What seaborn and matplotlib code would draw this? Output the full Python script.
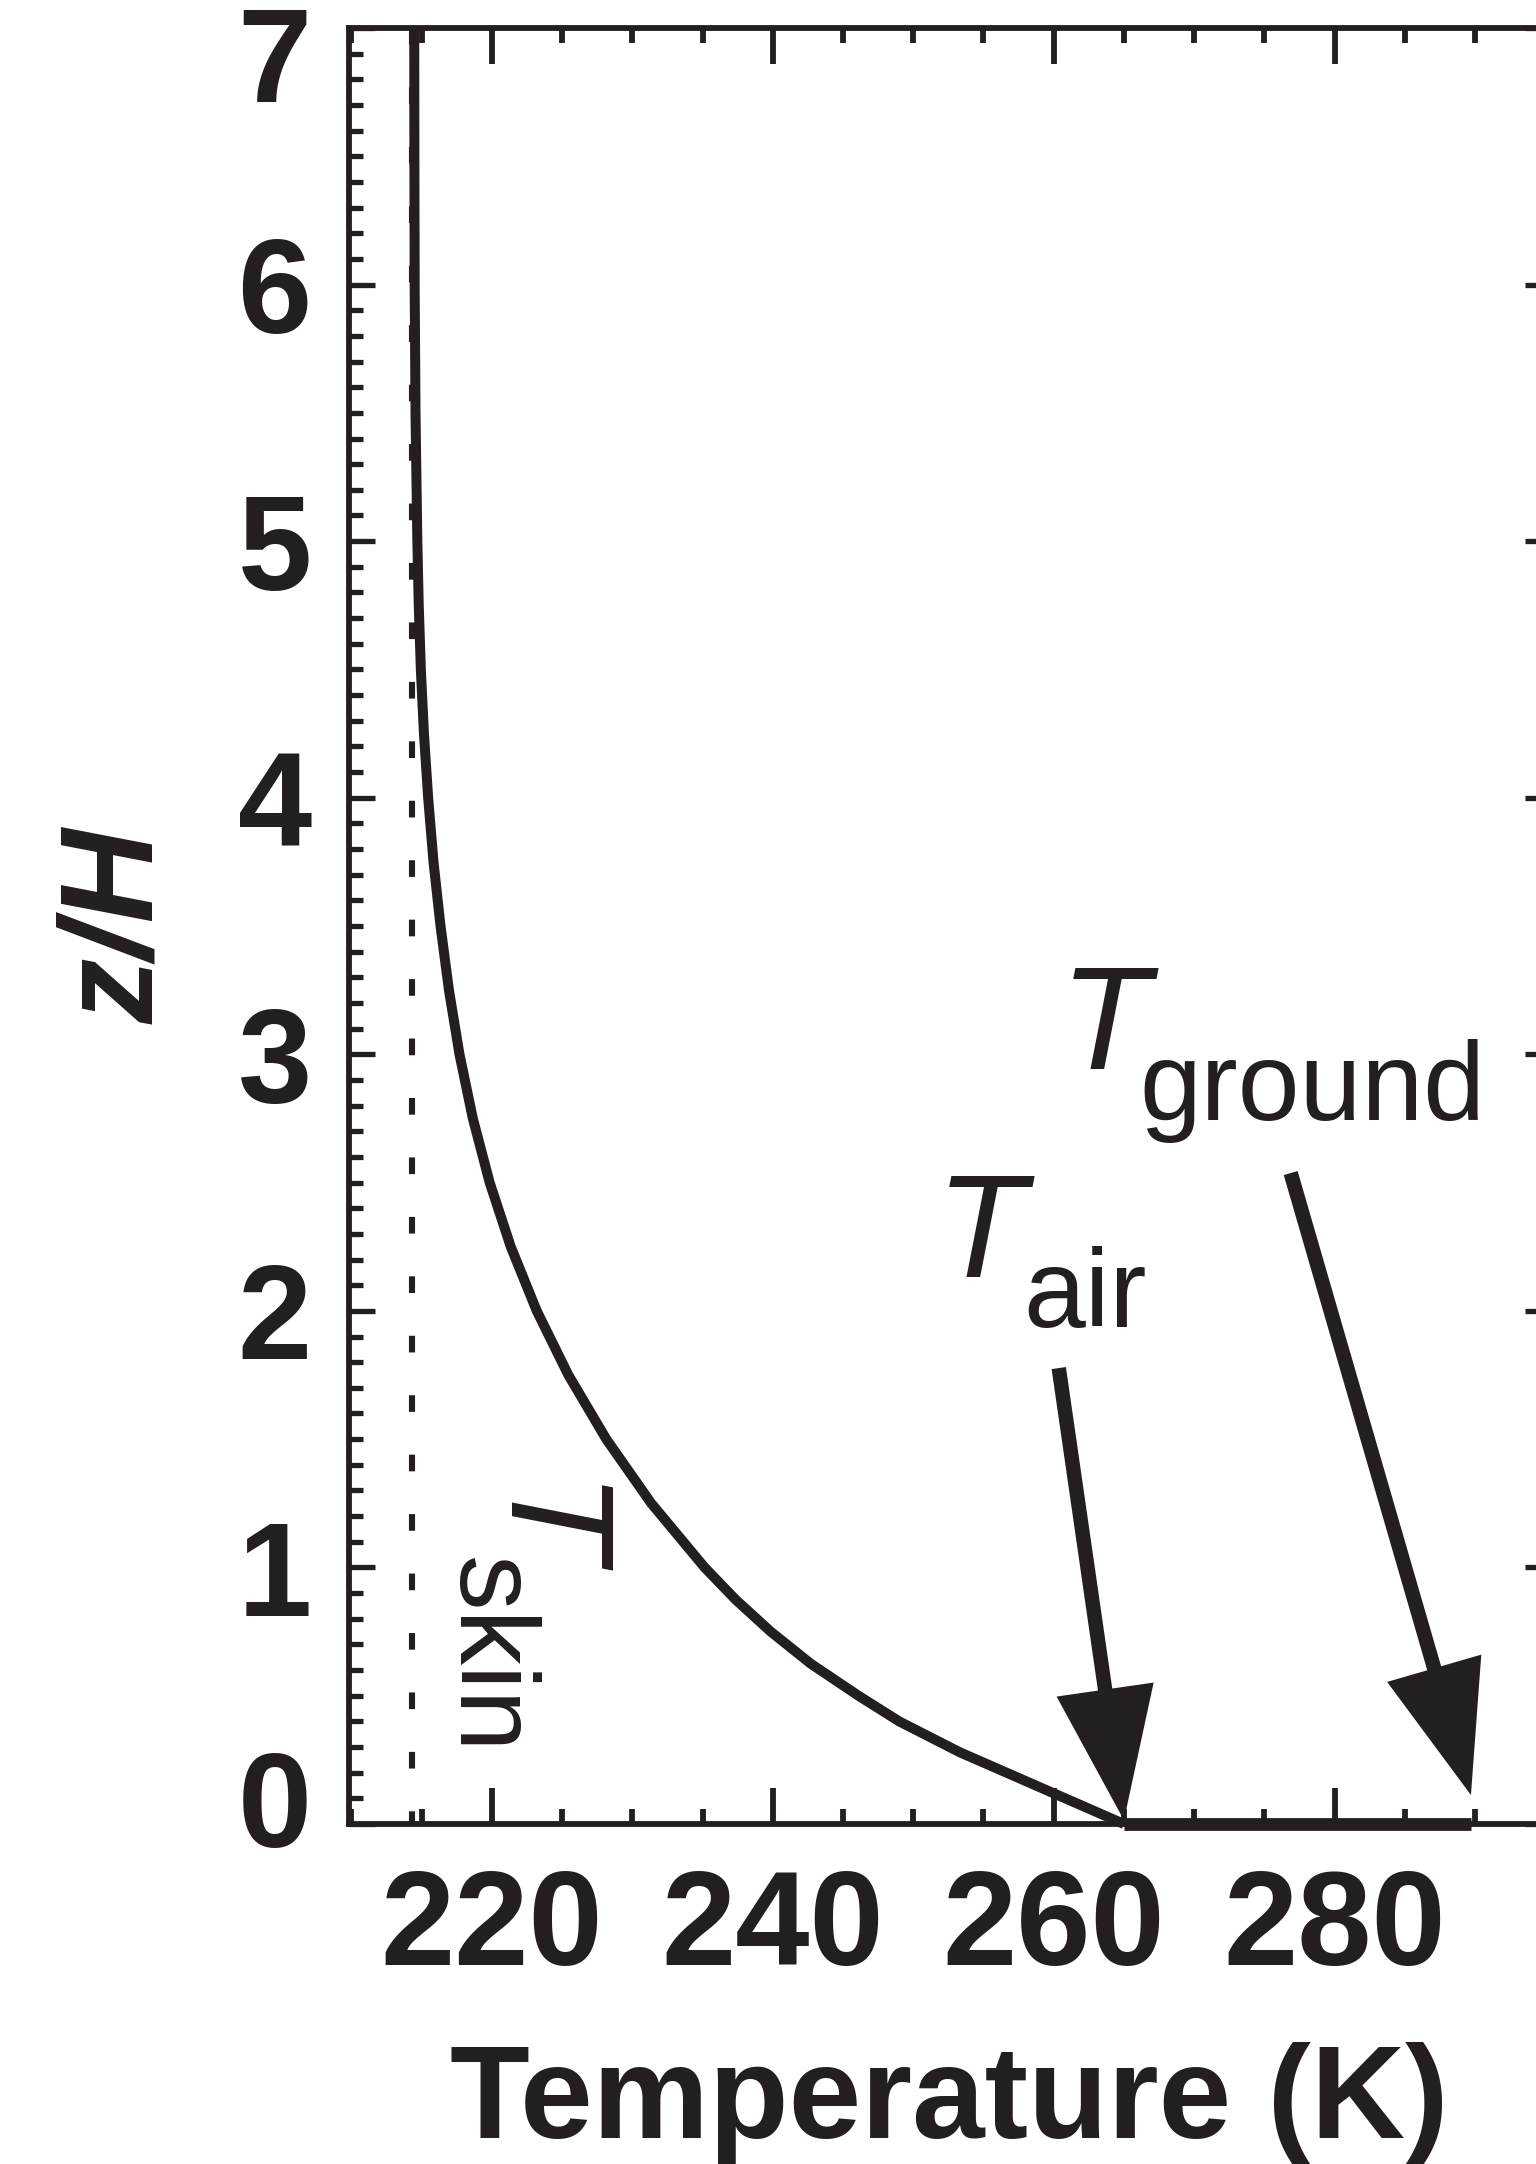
import matplotlib
matplotlib.use("Agg")
import matplotlib.pyplot as plt
import matplotlib.transforms as mtrans
from matplotlib.patches import ArrowStyle
from matplotlib.ticker import MultipleLocator
import pandas as pd
import seaborn as sns

# Radiative-equilibrium temperature profile (height in scale heights, T in K)
height = [7.00, 6.50, 6.00, 5.50, 5.00, 4.75, 4.50, 4.25, 4.00, 3.75,
          3.50, 3.25, 3.00, 2.75, 2.50, 2.25, 2.00, 1.75, 1.50, 1.25,
          1.00, 0.875, 0.75, 0.625, 0.50, 0.40, 0.28, 0.00]
temperature = [214.48, 214.49, 214.51, 214.57, 214.70, 214.80, 214.95, 215.17, 215.47, 215.85,
               216.35, 216.95, 217.70, 218.65, 219.85, 221.35, 223.20, 225.45, 228.15, 231.35,
               235.15, 237.35, 239.85, 242.70, 246.10, 249.00, 253.30, 265.00]

t_skin = 214.33    # skin temperature (dashed reference line)
t_air = 265.0      # air temperature at the ground
t_ground = 289.7   # ground temperature

x_ticks = [220, 240, 260, 280]
y_ticks = [0, 1, 2, 3, 4, 5, 6, 7]

ink = "#231f20"

sns.set_style("white")
plt.rcParams["font.family"] = ["Liberation Sans", "DejaVu Sans"]
plt.rcParams["font.weight"] = "bold"
plt.rcParams["lines.scale_dashes"] = False
plt.rcParams["text.color"] = ink
plt.rcParams["axes.labelcolor"] = ink
plt.rcParams["xtick.color"] = ink
plt.rcParams["ytick.color"] = ink

fig = plt.figure(figsize=(7.68, 10.82), dpi=200)
ax = fig.add_axes([348.5 / 1536, 340 / 2164, 1202.5 / 1536, 1796 / 2164])

profile = pd.DataFrame({"T": temperature, "z": height})
sns.lineplot(data=profile, x="T", y="z", sort=False, estimator=None, ax=ax,
             color=ink, lw=3.6, clip_on=False, zorder=4)
for line in ax.get_lines():
    line.set_linewidth(3.6)
    line.set_solid_capstyle("butt")
    line.set_solid_joinstyle("round")

skin = pd.DataFrame({"T": [t_skin, t_skin], "z": [7.0, 0.0]})
sns.lineplot(data=skin, x="T", y="z", sort=False, estimator=None, ax=ax,
             color=ink, lw=2.2)
skin_line = ax.get_lines()[-1]
skin_line.set_linewidth(2.2)
skin_line.set_dashes((6.0, 15.4))
skin_line.set_dash_capstyle("butt")

# surface jump between air and ground temperature
ax.plot([t_air, t_ground], [0.0, 0.0], color=ink, linewidth=4.6,
        solid_capstyle="butt", clip_on=False, zorder=5)

ax.set_xlim(209.8, 295.4)
ax.set_ylim(0, 7)
ax.xaxis.set_major_locator(MultipleLocator(20))
ax.xaxis.set_minor_locator(MultipleLocator(5))
ax.yaxis.set_major_locator(MultipleLocator(1))
ax.yaxis.set_minor_locator(MultipleLocator(0.1))
ax.set_xticks(x_ticks)
ax.set_yticks(y_ticks)
ax.set_xticklabels([str(v) for v in x_ticks])
ax.set_yticklabels([str(v) for v in y_ticks])

for side in ["left", "right", "top", "bottom"]:
    ax.spines[side].set_linewidth(2.1)
    ax.spines[side].set_color(ink)

ax.tick_params(axis="x", which="major", direction="in", length=13, width=2.1,
               top=True, bottom=True, labelsize=48, pad=16.0)
ax.tick_params(axis="x", which="minor", direction="in", length=5.5, width=2.1,
               top=True, bottom=True)
ax.tick_params(axis="y", which="major", direction="in", length=9.3, width=1.9,
               left=True, right=True, labelsize=48, pad=13.2)
ax.tick_params(axis="y", which="minor", direction="in", length=5.2, width=1.9,
               left=True, right=False)

# keep the end labels of the height axis inside the frame
ticks = ax.yaxis.get_major_ticks()
shift = 26 / 200
ticks[0].label1.set_transform(ticks[0].label1.get_transform()
                              + mtrans.ScaledTranslation(0, shift, fig.dpi_scale_trans))
ticks[-1].label1.set_transform(ticks[-1].label1.get_transform()
                               + mtrans.ScaledTranslation(0, -shift, fig.dpi_scale_trans))

ax.set_xlabel("Temperature (K)", fontsize=47, fontweight="bold", labelpad=17.5)
ax.set_ylabel("z/H", fontsize=47, fontweight="bold", fontstyle="italic", labelpad=20.7)

big, small = 53, 40
ax.text(260.4, 2.942, "T", fontsize=big, fontstyle="italic", fontweight="normal",
        ha="left", va="baseline")
ax.text(266.12, 2.744, "ground", fontsize=small, fontweight="normal",
        ha="left", va="baseline")
ax.text(251.6, 2.132, "T", fontsize=big, fontstyle="italic", fontweight="normal",
        ha="left", va="baseline")
ax.text(257.86, 1.937, "air", fontsize=small, fontweight="normal",
        ha="left", va="baseline")
ax.text(220.45, 1.327, "T", fontsize=big, fontstyle="italic", fontweight="normal",
        ha="left", va="baseline", rotation=-90, rotation_mode="anchor")
ax.text(217.51, 1.040, "skin", fontsize=small, fontweight="normal",
        ha="left", va="baseline", rotation=-90, rotation_mode="anchor")

arrow = dict(arrowstyle=ArrowStyle.Simple(head_length=4.75, head_width=3.53, tail_width=0.52),
             mutation_scale=10, shrinkA=0, shrinkB=0, facecolor=ink,
             edgecolor="none", linewidth=0)
ax.annotate("", xy=(t_air, 0.015), xytext=(260.36, 1.777), arrowprops=arrow,
            annotation_clip=False)
ax.annotate("", xy=(t_ground, 0.113), xytext=(276.87, 2.537), arrowprops=arrow,
            annotation_clip=False)

fig.savefig("out.png", dpi=200)
